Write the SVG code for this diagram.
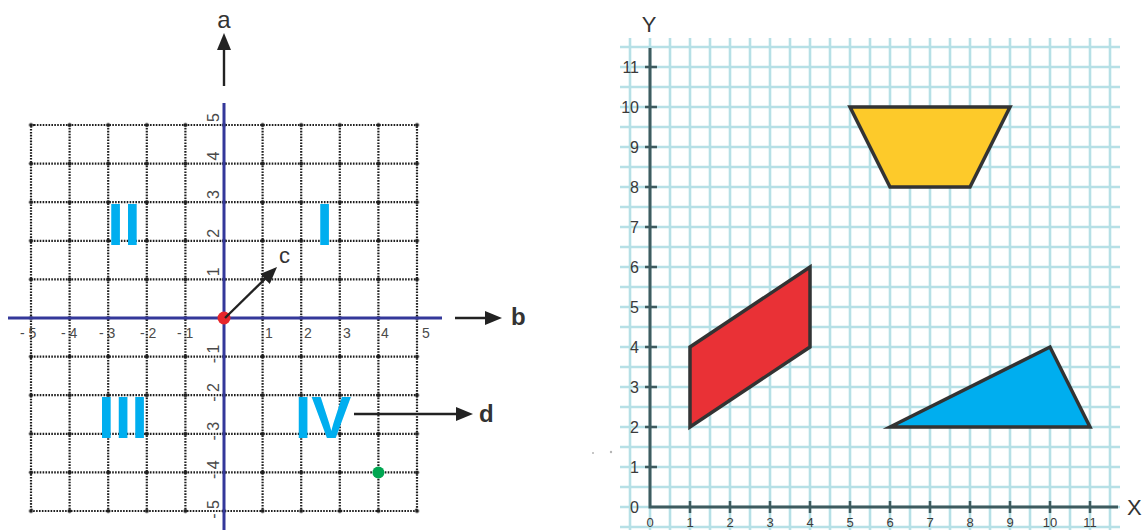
<svg xmlns="http://www.w3.org/2000/svg" width="1144" height="530" viewBox="0 0 1144 530">
<style>
.dot{fill:none;stroke:#1e1e1e;stroke-width:2.2;stroke-dasharray:1.6 1.3}
.ax{stroke:#34389a;stroke-width:3;fill:none}
.lbl{font-family:"Liberation Sans",Arial,sans-serif;fill:#4a4a4a}
.xl{font-size:14px}
.yl{font-size:16px}
.quad{font-family:"Liberation Sans",Arial,sans-serif;font-weight:bold;font-size:60px;fill:#00aeef;text-anchor:middle}
.arr{stroke:#222;stroke-width:2.4;fill:none;marker-end:url(#ah)}
.nm{font-family:"Liberation Sans",Arial,sans-serif;fill:#333}
.g2{stroke:#b6e0e6;stroke-width:2.6;fill:none}
.ax2{stroke:#3e5b5f;stroke-width:3;fill:none}
.tk{stroke:#3e5b5f;stroke-width:2.5}
.n2{font-family:"Liberation Sans",Arial,sans-serif;font-size:16px;fill:#3a3a3a}
.shape{stroke:#333;stroke-width:3.5;stroke-linejoin:miter;stroke-miterlimit:10}
</style>
<defs>
<marker id="ah" viewBox="0 0 17 14" refX="8" refY="7" markerWidth="17" markerHeight="14" markerUnits="userSpaceOnUse" orient="auto">
<path d="M0,0 L17,7 L0,14 z" fill="#222"/>
</marker>
<pattern id="gdot" patternUnits="userSpaceOnUse" x="11.7" y="105.7" width="38.6" height="38.6">
<circle cx="19.3" cy="19.3" r="2" fill="#1e1e1e"/>
</pattern>
</defs>
<rect width="1144" height="530" fill="#fff"/>

<!-- LEFT CHART -->
<g id="left-grid">
<rect class="dot" x="31" y="125" width="386" height="386" rx="3"/>
<path class="dot" d="M69.6,125V511M108.2,125V511M146.8,125V511M185.4,125V511M262.6,125V511M301.2,125V511M339.8,125V511M378.4,125V511
M31,163.6H417M31,202.2H417M31,240.8H417M31,279.4H417M31,356.6H417M31,395.2H417M31,433.8H417M31,472.4H417"/>
<rect x="28" y="122" width="392" height="392" fill="url(#gdot)"/>
</g>
<g id="left-axes">
<line class="ax" x1="224" y1="103" x2="224" y2="530"/>
<line class="ax" x1="8" y1="318" x2="442" y2="318"/>
</g>
<g id="left-x-labels" class="lbl xl">
<text x="20" y="338">- 5</text>
<text x="61" y="338">- 4</text>
<text x="99" y="338">- 3</text>
<text x="140" y="338">- 2</text>
<text x="177" y="338">- 1</text>
<text x="265" y="338">1</text>
<text x="304" y="338">2</text>
<text x="343" y="338">3</text>
<text x="381" y="338">4</text>
<text x="422" y="338">5</text>
</g>
<g id="left-y-labels" class="lbl yl" text-anchor="end">
<text transform="translate(219,113) rotate(-90)">5</text>
<text transform="translate(219,151.6) rotate(-90)">4</text>
<text transform="translate(219,190.2) rotate(-90)">3</text>
<text transform="translate(219,228.8) rotate(-90)">2</text>
<text transform="translate(219,267.4) rotate(-90)">1</text>
<text transform="translate(219,344.6) rotate(-90)">- 1</text>
<text transform="translate(219,383.2) rotate(-90)">- 2</text>
<text transform="translate(219,421.8) rotate(-90)">- 3</text>
<text transform="translate(219,460.4) rotate(-90)">- 4</text>
<text transform="translate(219,500) rotate(-90)">- 5</text>
</g>
<g id="quadrants">
<text class="quad" x="324.5" y="245">I</text>
<text class="quad" x="124" y="245">II</text>
<text class="quad" x="123" y="438">III</text>
<text class="quad" x="323" y="438">IV</text>
</g>
<g id="points">
<circle id="origin" cx="224" cy="318" r="6.5" fill="#e8262b"/>
<circle id="green-point" cx="378.4" cy="472.4" r="6" fill="#00a651"/>
</g>
<g id="connectors">
<line class="arr" x1="224" y1="86" x2="224" y2="42"/>
<line class="arr" x1="455" y1="318" x2="493" y2="318"/>
<line class="arr" x1="225" y1="318" x2="270.6" y2="273.3"/>
<line class="arr" x1="354" y1="414" x2="464" y2="414"/>
</g>
<g id="arrow-labels">
<text class="nm" x="224" y="28" font-size="24" text-anchor="middle">a</text>
<text class="nm" x="511" y="325" font-size="24" font-weight="bold">b</text>
<text class="nm" x="279" y="263" font-size="22">c</text>
<text class="nm" x="479" y="422" font-size="24" font-weight="bold">d</text>
</g>

<!-- RIGHT CHART -->
<g id="right-grid" class="g2">
<path d="M630,38V530M650,38V530M670,38V530M690,38V530M710,38V530M730,38V530M750,38V530M770,38V530M790,38V530M810,38V530M830,38V530M850,38V530M870,38V530M890,38V530M910,38V530M930,38V530M950,38V530M970,38V530M990,38V530M1010,38V530M1030,38V530M1050,38V530M1070,38V530M1090,38V530M1110,38V530"/>
<path d="M620,47H1120M620,67H1120M620,87H1120M620,107H1120M620,127H1120M620,147H1120M620,167H1120M620,187H1120M620,207H1120M620,227H1120M620,247H1120M620,267H1120M620,287H1120M620,307H1120M620,327H1120M620,347H1120M620,367H1120M620,387H1120M620,407H1120M620,427H1120M620,447H1120M620,467H1120M620,487H1120M620,507H1120M620,527H1120"/>
</g>
<g id="right-axes">
<path class="ax2" d="M650,48V507H1118"/>
<path class="tk" d="M645,67H657M645,107H657M645,147H657M645,187H657M645,227H657M645,267H657M645,307H657M645,347H657M645,387H657M645,427H657M645,467H657
M690,501V513M730,501V513M770,501V513M810,501V513M850,501V513M890,501V513M930,501V513M970,501V513M1010,501V513M1050,501V513M1090,501V513"/>
</g>
<g id="right-y-labels" class="n2" text-anchor="end">
<text x="639" y="513">0</text>
<text x="639" y="473">1</text>
<text x="639" y="433">2</text>
<text x="639" y="393">3</text>
<text x="639" y="353">4</text>
<text x="639" y="313">5</text>
<text x="639" y="273">6</text>
<text x="639" y="233">7</text>
<text x="639" y="193">8</text>
<text x="639" y="153">9</text>
<text x="639" y="113">10</text>
<text x="639" y="73">11</text>
</g>
<g id="right-x-labels" class="n2" text-anchor="middle" style="font-size:13px">
<text x="650" y="527">0</text>
<text x="690" y="527">1</text>
<text x="730" y="527">2</text>
<text x="770" y="527">3</text>
<text x="810" y="527">4</text>
<text x="850" y="527">5</text>
<text x="890" y="527">6</text>
<text x="930" y="527">7</text>
<text x="970" y="527">8</text>
<text x="1010" y="527">9</text>
<text x="1050" y="527">10</text>
<text x="1090" y="527">11</text>
</g>
<g id="axis-names" class="nm" font-size="22" fill="#444">
<text x="649" y="32" text-anchor="middle">Y</text>
<text x="1127" y="515">X</text>
</g>
<g id="trapezoid"><polygon class="shape" fill="#fdca2a" points="850,107 1010,107 970,187 890,187"/></g>
<g id="parallelogram"><polygon class="shape" fill="#e93136" points="690,427 690,347 810,267 810,347"/></g>
<g id="triangle"><polygon class="shape" fill="#00aeef" points="890,427 1050,347 1090,427"/></g>
<g id="specks" fill="#b5b5b5">
<circle cx="593" cy="453" r="1"/>
<circle cx="611" cy="452" r="1.2"/>
</g>
</svg>
